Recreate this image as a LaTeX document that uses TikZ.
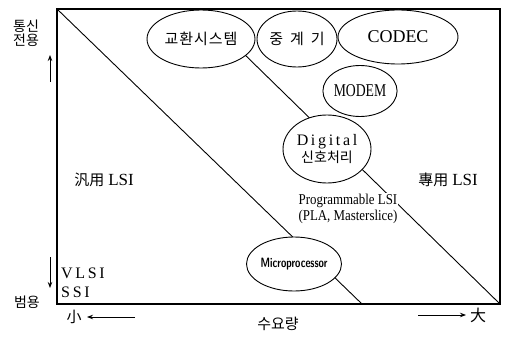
\documentclass[tikz,border=0pt]{standalone}
\usepackage{fontspec}
\setmainfont{Liberation Serif}
\newfontfamily\kr{Noto Sans CJK KR}
\usetikzlibrary{shapes.geometric,arrows.meta}
\begin{document}
\begin{tikzpicture}[x=1pt,y=-1pt,
  ell/.style={draw,ellipse,fill=white,line width=0.9pt,inner sep=0pt},
  lbl/.style={inner sep=0pt},
  diag/.style={line width=0.9pt},
  arr/.style={line width=0.9pt,-{Stealth[length=6pt,width=4.5pt]}}]
\useasboundingbox (0,0) rectangle (508,339);
% frame and diagonals
\coordinate (tl) at (57,9);
\coordinate (br) at (500,304);
\coordinate (d1b) at (362,304);
\coordinate (d2t) at (198,9);
\draw[line width=1.3pt] (tl) rectangle (br);
\draw[diag] (tl) -- (d1b);
\draw[diag] (d2t) -- (br);
% ellipses
\node[ell,minimum width=108pt,minimum height=58pt] (kh) at (201,39)
  {\kr\fontsize{15}{15}\selectfont 교\kern1pt환\kern1pt시\kern1pt스\kern1pt템};
\node[ell,minimum width=80pt,minimum height=56pt] (jg) at (297,39)
  {\kr\fontsize{15}{15}\selectfont 중\kern7pt계\kern7pt기};
\node[ell,minimum width=120pt,minimum height=54pt] (cd) at (398,37)
  {\fontsize{18}{18}\selectfont CODEC};
\node[ell,minimum width=54pt,minimum height=51pt] (md) at (360,91)
  {\scalebox{0.76}[1]{\fontsize{18}{18}\selectfont MODEM}};
\node[ell,minimum width=88pt,minimum height=68pt,align=center,font=\fontsize{16}{18}\selectfont] (dg) at (327,149)
  {D\,i\,g\,i\,t\,a\,l\\[-1pt]{\kr\fontsize{14}{14}\selectfont 신호처리}};
\node[ell,minimum width=95pt,minimum height=54pt] (mp) at (294,264)
  {\scalebox{0.72}[1]{\sffamily\bfseries\fontsize{13.5}{13.5}\selectfont Microprocessor}};
% programmable label
\node[lbl,fill=white,align=center,inner sep=1pt] (pl) at (348,209)
  {\scalebox{0.86}[1]{\fontsize{15}{15}\selectfont Programmable LSI}\\[1pt]
   \scalebox{0.86}[1]{\fontsize{15}{15}\selectfont (PLA, Masterslice)}};
% region labels
\node[lbl] (gen) at (104,180) {\kr\fontsize{15}{15}\selectfont 汎用\kern4pt\rmfamily\fontsize{17}{17}\selectfont LSI};
\node[lbl] (ded) at (448,180) {\kr\fontsize{15}{15}\selectfont 專用\kern4pt\rmfamily\fontsize{17}{17}\selectfont LSI};
\node[lbl,anchor=west] (vl) at (61,273) {\fontsize{16}{16}\selectfont V\,L\,S\,I};
\node[lbl,anchor=west] (ss) at (61,292) {\fontsize{16}{16}\selectfont S\,S\,I};
% axis labels
\node[lbl] (ts) at (26,26) {\kr\fontsize{14}{14}\selectfont 통신};
\node[lbl] (jy) at (26,40) {\kr\fontsize{14}{14}\selectfont 전용};
\node[lbl] (by) at (27,302) {\kr\fontsize{14}{14}\selectfont 범용};
\node[lbl] (sm) at (74,317) {\kr\fontsize{15}{15}\selectfont 小};
\node[lbl] (bg) at (478,315) {\kr\fontsize{16}{16}\selectfont 大};
\node[lbl] (sy) at (278,324) {\kr\fontsize{15}{15}\selectfont 수요량};
% arrows
\coordinate (ua1) at (50,82);
\coordinate (ua2) at (50,55);
\coordinate (da1) at (50,257);
\coordinate (da2) at (50,288);
\coordinate (la1) at (135,317);
\coordinate (la2) at (87,317);
\coordinate (ra1) at (418,315);
\coordinate (ra2) at (466,315);
\draw[arr] (ua1) -- (ua2);
\draw[arr] (da1) -- (da2);
\draw[arr] (la1) -- (la2);
\draw[arr] (ra1) -- (ra2);
\end{tikzpicture}
\end{document}
